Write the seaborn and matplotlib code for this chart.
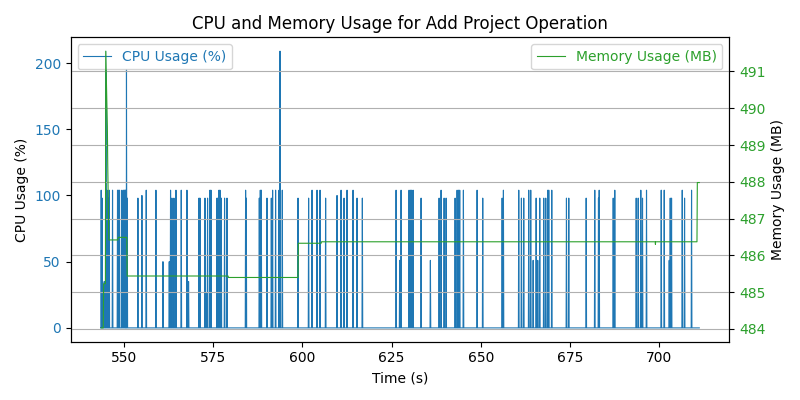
import numpy as np
import pandas as pd
import matplotlib
matplotlib.use("Agg")
import matplotlib.pyplot as plt
import seaborn as sns

# CPU spikes: time (s) and value (%) of the non-zero samples; all other samples are 0
spike_times = [
    543.57, 543.85, 544.42, 544.89, 545.20, 545.55, 545.82, 546.75, 548.15, 548.43,
    548.71, 549.38, 549.83, 550.11, 550.31, 550.51, 550.66, 550.87, 553.87, 554.99,
    556.20, 558.92, 560.89, 562.66, 563.02, 563.41, 563.97, 564.54, 566.02, 567.62,
    568.07, 570.99, 571.27, 572.67, 572.95, 573.40, 574.08, 574.36, 576.04, 576.32,
    576.60, 576.88, 577.25, 578.17, 578.85, 584.07, 584.26, 587.91, 588.19, 588.47,
    590.07, 591.28, 591.64, 592.48, 593.44, 593.72, 594.36, 598.77, 601.74, 602.70,
    604.10, 604.94, 606.51, 609.71, 610.84, 611.68, 612.52, 614.20, 615.32, 616.81,
    626.27, 627.28, 627.67, 629.91, 630.28, 630.64, 631.04, 633.28, 635.89, 638.33,
    638.89, 639.74, 640.30, 642.82, 643.38, 643.75, 644.11, 645.15, 648.99, 650.57,
    656.01, 656.37, 660.67, 661.42, 662.07, 663.47, 664.03, 664.71, 665.55, 666.00,
    666.56, 667.68, 668.24, 668.81, 669.09, 669.93, 674.05, 674.70, 679.58, 681.99,
    683.03, 683.23, 687.16, 687.60, 693.61, 694.17, 694.90, 695.38, 696.50, 700.63,
    701.47, 702.87, 703.15, 703.52, 706.52, 707.17, 709.13,
]
spike_values = [
    104, 98, 35, 209, 104, 98, 104, 104, 104, 104,
    104, 104, 104, 104, 104, 104, 195, 98, 98, 100,
    104, 104, 50, 50, 104, 98, 98, 104, 104, 104,
    35, 98, 98, 98, 26, 98, 104, 104, 98, 98,
    104, 104, 98, 98, 98, 104, 98, 98, 104, 104,
    98, 98, 104, 104, 104, 209, 104, 98, 98, 104,
    104, 104, 98, 100, 104, 98, 104, 104, 98, 98,
    104, 51, 104, 104, 104, 104, 104, 98, 51, 98,
    104, 98, 98, 98, 104, 104, 104, 104, 104, 98,
    98, 104, 104, 98, 98, 104, 104, 51, 98, 51,
    98, 98, 98, 104, 104, 104, 98, 98, 98, 104,
    98, 104, 98, 104, 98, 98, 104, 98, 104, 104,
    104, 51, 98, 98, 104, 98, 104,
]
cpu_start, cpu_end = 543.4, 711.3

# Memory samples (time s, MB)
mem_times = [543.6, 544.15, 544.25, 544.75, 544.85, 545.30, 545.40, 545.70, 548.25, 548.35,
             550.75, 550.85, 579.15, 579.25, 598.75, 598.85, 605.25, 605.35, 698.95, 699.0,
             699.05, 710.65, 710.75, 711.3]
mem_values = [484.03, 484.03, 485.23, 485.23, 491.55, 489.5, 488.5, 486.42, 486.42, 486.49,
              486.49, 485.44, 485.44, 485.40, 485.40, 486.33, 486.33, 486.37, 486.37, 486.30,
              486.37, 486.37, 487.98, 487.98]

# assemble CPU sample table: zero samples around each spike
t_list = [cpu_start]
v_list = [0.0]
for t, v in zip(spike_times, spike_values):
    t_list += [t - 0.1, t, t + 0.1]
    v_list += [0.0, v, 0.0]
t_list.append(cpu_end)
v_list.append(0.0)
cpu_df = pd.DataFrame({"Time": t_list, "CPU": v_list}).sort_values("Time")
mem_df = pd.DataFrame({"Time": mem_times, "Mem": mem_values})

fig, ax1 = plt.subplots(figsize=(8, 4), dpi=100)
sns.lineplot(data=cpu_df, x="Time", y="CPU", ax=ax1, color="tab:blue",
             linewidth=0.8, label="CPU Usage (%)", estimator=None, sort=False)
ax1.set_xlabel("Time (s)")
ax1.set_ylabel("CPU Usage (%)")
ax1.tick_params(axis="y", labelcolor="tab:blue")
ax1.legend(loc="upper left", labelcolor="linecolor")

ax2 = ax1.twinx()
sns.lineplot(data=mem_df, x="Time", y="Mem", ax=ax2, color="tab:green",
             linewidth=0.8, label="Memory Usage (MB)", estimator=None, sort=False)
ax2.set_ylabel("Memory Usage (MB)")
ax2.tick_params(axis="y", labelcolor="tab:green")
ax2.grid(True)
ax2.legend(loc="upper right", labelcolor="linecolor")

ax1.set_title("CPU and Memory Usage for Add Project Operation")
fig.tight_layout()
fig.savefig("out.png", dpi=100)
